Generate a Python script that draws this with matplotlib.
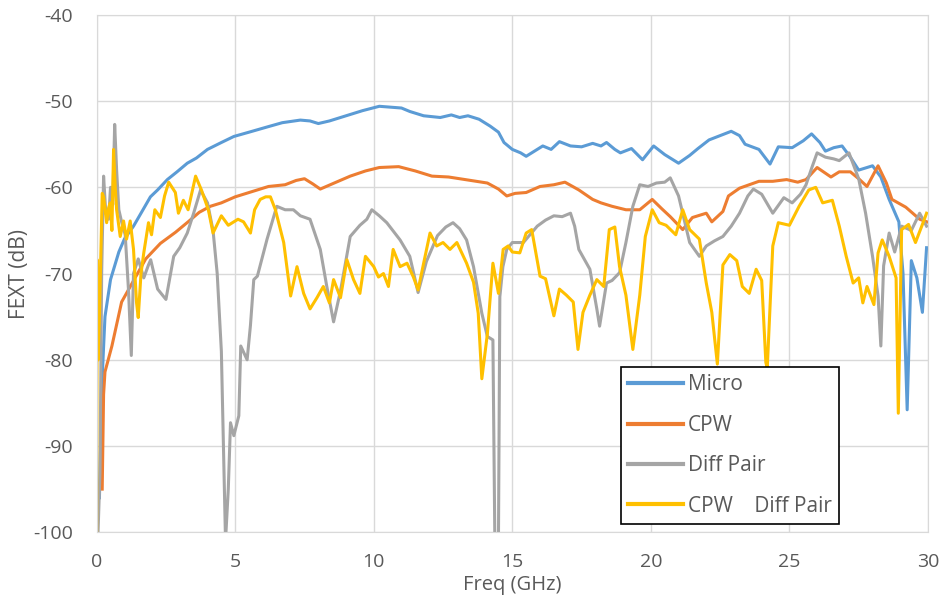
import matplotlib
matplotlib.use("Agg")
import matplotlib.pyplot as plt

plt.rcParams['font.family'] = ['Open Sans', 'DejaVu Sans']
plt.rcParams['axes.unicode_minus'] = False

# Micro
micro_f = [0.1, 0.2, 0.3, 0.5, 0.8, 1.0, 1.33, 1.6, 1.94, 2.2, 2.55, 2.9, 3.27, 3.6, 4.0, 4.5,
           4.95, 5.5, 6.15, 6.7, 7.35, 7.7, 8.0, 8.4, 8.8, 9.2, 9.6, 10.2, 10.6, 11.0, 11.3,
           11.8, 12.1, 12.4, 12.8, 13.1, 13.4, 13.8, 14.2, 14.5, 14.7, 15.0, 15.3, 15.5, 15.8,
           16.1, 16.4, 16.7, 17.1, 17.5, 17.9, 18.2, 18.4, 18.7, 18.9, 19.3, 19.7, 20.1, 20.5,
           21.0, 21.4, 21.7, 22.1, 22.5, 22.9, 23.2, 23.4, 23.9, 24.3, 24.6, 25.1, 25.5, 25.8,
           26.1, 26.3, 26.6, 26.9, 27.2, 27.5, 28.0, 28.3, 28.6, 28.95, 29.1, 29.25, 29.4, 29.6,
           29.8, 29.95]
micro_v = [-96, -82, -75, -70.7, -67.5, -66, -64.5, -63, -61.1, -60.3, -59.1, -58.2, -57.2, -56.6,
           -55.6, -54.8, -54.1, -53.6, -53.0, -52.5, -52.2, -52.3, -52.6, -52.3, -51.9, -51.5,
           -51.1, -50.6, -50.7, -50.8, -51.2, -51.7, -51.8, -51.9, -51.6, -51.9, -51.7, -52.1,
           -52.9, -53.6, -54.8, -55.6, -56.0, -56.4, -55.8, -55.2, -55.6, -54.7, -55.2, -55.3,
           -54.9, -55.2, -54.8, -55.6, -56.0, -55.5, -56.8, -55.2, -56.2, -57.2, -56.3, -55.5,
           -54.5, -54.0, -53.5, -54.0, -55.0, -55.6, -57.3, -55.3, -55.4, -54.6, -53.8, -54.8,
           -55.8, -55.4, -55.2, -56.5, -58.0, -57.5, -58.8, -61.4, -64.0, -70, -85.8, -68.5,
           -70.5, -74.5, -67]

# CPW
cpw_f = [0.2, 0.25, 0.3, 0.55, 0.9, 1.3, 1.77, 2.3, 2.85, 3.3, 3.7, 4.1, 4.5, 5.0, 5.6, 6.2,
         6.8, 7.2, 7.5, 7.8, 8.07, 8.5, 9.15, 9.7, 10.2, 10.9, 11.5, 12.1, 12.7, 13.3, 14.1,
         14.5, 14.8, 15.1, 15.5, 16.0, 16.5, 16.9, 17.4, 17.9, 18.2, 18.6, 19.1, 19.6, 20.05,
         20.4, 20.7, 21.15, 21.5, 22.0, 22.2, 22.6, 22.8, 23.2, 23.9, 24.4, 24.9, 25.3, 25.6,
         26.0, 26.5, 26.8, 27.2, 27.5, 27.8, 28.2, 28.5, 28.7, 29.2, 29.7, 29.96]
cpw_v = [-95, -84, -81.4, -78.4, -73.3, -71, -68.3, -66.5, -65.2, -64, -62.9, -62.2, -61.8,
         -61.1, -60.5, -59.9, -59.7, -59.2, -59.0, -59.6, -60.2, -59.6, -58.7, -58.1, -57.7,
         -57.6, -58.1, -58.7, -58.8, -59.1, -59.5, -60.2, -61.0, -60.7, -60.6, -59.9, -59.7,
         -59.4, -60.3, -61.4, -61.8, -62.2, -62.6, -62.6, -61.4, -62.5, -63.4, -64.9, -63.5,
         -63.0, -64.0, -62.8, -61.0, -60.1, -59.3, -59.3, -59.1, -59.4, -59.1, -57.7, -58.8,
         -58.2, -58.2, -59.0, -59.9, -57.5, -59.5, -61.4, -62.3, -63.7, -64]

# Diff Pair
diff_f = [0.05, 0.12, 0.18, 0.25, 0.33, 0.43, 0.5, 0.58, 0.65, 0.72, 0.8, 0.9, 1.03, 1.15, 1.25,
          1.33, 1.5, 1.7, 1.87, 1.95, 2.2, 2.4, 2.5, 2.78, 3.0, 3.27, 3.5, 3.75, 4.0, 4.2, 4.35,
          4.5, 4.65, 4.75, 4.83, 4.95, 5.13, 5.2, 5.43, 5.55, 5.67, 5.8, 6.15, 6.5, 6.8, 7.1,
          7.35, 7.7, 8.07, 8.3, 8.55, 8.8, 9.15, 9.5, 9.75, 9.93, 10.2, 10.47, 10.95, 11.3,
          11.6, 11.9, 12.3, 12.6, 12.86, 13.1, 13.35, 13.6, 13.9, 14.1, 14.3, 14.37, 14.5,
          14.55, 14.66, 14.8, 15.0, 15.4, 15.9, 16.2, 16.5, 16.8, 17.1, 17.25, 17.4, 17.8,
          18.05, 18.15, 18.4, 18.6, 18.87, 19.1, 19.35, 19.6, 19.9, 20.2, 20.5, 20.7, 21.0,
          21.4, 21.75, 22.0, 22.3, 22.6, 22.9, 23.2, 23.5, 23.7, 24.0, 24.4, 24.8, 25.1, 25.4,
          25.6, 25.8, 26.0, 26.3, 26.6, 26.8, 27.15, 27.5, 27.75, 28.0, 28.2, 28.3, 28.4, 28.6,
          28.8, 29.05, 29.4, 29.7, 29.95]
diff_v = [-100, -93, -70, -58.7, -63, -63.7, -60, -62, -52.7, -58, -62.6, -64, -65.5, -72, -79.5,
          -70, -68.3, -70.5, -69, -68.4, -71.8, -72.6, -73, -68, -67, -65.3, -63, -60.3, -61.8,
          -65, -70, -79, -101, -95, -87.3, -88.8, -86.5, -78.4, -80, -76, -70.7, -70.3, -66,
          -62.2, -62.6, -62.6, -63.3, -63.7, -67.2, -71.4, -75.6, -72, -65.7, -64.4, -63.7,
          -62.6, -63.3, -64.1, -66.1, -68, -72.2, -68.6, -65.6, -64.6, -64.1, -64.8, -66.1,
          -69.2, -74.6, -77.3, -77.7, -101, -101, -72.7, -69.2, -67.2, -66.4, -66.4, -64.5,
          -63.8, -63.3, -63.4, -63.0, -64.5, -67.2, -69.5, -74.1, -76.1, -71.1, -70.8, -69.9,
          -66.4, -62.2, -59.7, -59.9, -59.5, -59.4, -58.9, -61.0, -66.4, -68.0, -66.8, -66.2,
          -65.7, -64.5, -63.0, -61.0, -60.2, -60.8, -63.0, -61.2, -61.8, -60.8, -59.7, -57.8,
          -56.0, -56.5, -56.7, -56.9, -56.0, -59.0, -63.0, -68.0, -72.6, -78.4, -69.1, -65.3,
          -67.5, -64.5, -65.0, -63.0, -64.5]

# CPW + Diff Pair
cdp_f = [0.0, 0.02, 0.05, 0.1, 0.2, 0.25, 0.36, 0.43, 0.49, 0.55, 0.61, 0.67, 0.72, 0.85, 0.97,
         1.08, 1.21, 1.33, 1.44, 1.5, 1.6, 1.7, 1.87, 1.98, 2.1, 2.3, 2.45, 2.6, 2.84, 2.95,
         3.13, 3.3, 3.57, 3.78, 4.03, 4.2, 4.5, 4.75, 5.1, 5.3, 5.47, 5.55, 5.7, 5.9, 6.1,
         6.27, 6.45, 6.75, 7.0, 7.23, 7.47, 7.7, 7.95, 8.18, 8.4, 8.55, 8.8, 9.03, 9.27, 9.5,
         9.7, 10.0, 10.17, 10.35, 10.53, 10.7, 10.95, 11.2, 11.43, 11.6, 11.8, 12.03, 12.27,
         12.5, 12.75, 13.0, 13.35, 13.6, 13.77, 13.9, 14.0, 14.1, 14.3, 14.5, 14.67, 14.85,
         15.0, 15.27, 15.5, 15.7, 16.0, 16.2, 16.5, 16.7, 16.95, 17.2, 17.37, 17.55, 17.8,
         18.05, 18.3, 18.5, 18.7, 18.87, 19.1, 19.35, 19.6, 19.8, 20.05, 20.3, 20.55, 20.9,
         21.15, 21.4, 21.75, 22.0, 22.2, 22.4, 22.6, 22.85, 23.1, 23.3, 23.55, 23.8, 24.0,
         24.15, 24.2, 24.4, 24.6, 25.0, 25.35, 25.7, 25.95, 26.2, 26.55, 26.8, 27.05, 27.3,
         27.5, 27.65, 27.8, 28.05, 28.2, 28.35, 28.6, 28.85, 28.93, 29.05, 29.3, 29.55, 29.8,
         29.95]
cdp_v = [-100, -68.4, -80, -75, -60.7, -61.1, -64.1, -62.4, -61.8, -65, -55.6, -60, -62.6,
         -65.7, -63.9, -66.0, -63.9, -67.2, -73.4, -75.1, -70, -67.6, -64.1, -65.5, -62.6,
         -63.5, -61, -59.4, -60.6, -63.0, -61.5, -62.6, -58.7, -60.3, -62.6, -65.3, -63.3,
         -64.4, -63.7, -64.0, -64.9, -65.3, -62.6, -61.4, -61.1, -61.1, -62.6, -66.4, -72.6,
         -69.2, -72.3, -74.1, -72.8, -71.5, -73.4, -70.7, -72.8, -68.4, -70.7, -72.3, -68.0,
         -69.2, -70.4, -70.0, -71.5, -67.2, -69.2, -68.8, -70.4, -71.9, -68.8, -65.3, -66.8,
         -66.4, -67.2, -66.4, -68.8, -71.0, -74.6, -82.2, -79.6, -77.0, -68.8, -72.3, -67.2,
         -66.8, -67.5, -67.6, -65.3, -64.9, -70.3, -70.6, -74.9, -71.8, -72.5, -73.3, -78.8,
         -74.5, -72.5, -70.7, -71.5, -64.9, -64.6, -69.2, -72.5, -78.8, -72.5, -65.7, -62.6,
         -64.1, -64.4, -65.5, -62.6, -64.9, -66.0, -71.1, -74.5, -80.5, -69.0, -67.8, -68.5,
         -71.5, -72.3, -69.5, -70.8, -80.3, -81, -66.8, -64.1, -64.4, -62.2, -60.3, -60.0,
         -61.8, -61.5, -64.5, -68.0, -71.1, -70.5, -73.4, -71.5, -73.6, -67.6, -66.1, -68.0,
         -70.5, -86.2, -64.9, -64.3, -66.4, -64.3, -63]

labels = ["Micro", "CPW", "Diff Pair", "CPW    Diff Pair"]
colors = ["#5B9BD5", "#ED7D31", "#A5A5A5", "#FFC000"]

fig = plt.figure(figsize=(9.44, 5.96), dpi=100)
ax = fig.add_axes([0.1024, 0.107, 0.8806, 0.868])

series = [(micro_f, micro_v), (cpw_f, cpw_v), (diff_f, diff_v), (cdp_f, cdp_v)]
for (f, v), lab, c in zip(series, labels, colors):
    ax.plot(f, v, color=c, lw=2.2, label=lab, solid_joinstyle='round')

ax.set_xlim(0, 30)
ax.set_ylim(-100, -40)
ax.set_xticks(range(0, 31, 5))
ax.set_yticks(range(-100, -39, 10))
ax.grid(True, color="#d9d9d9", lw=1.0)
ax.set_axisbelow(True)
for s in ax.spines.values():
    s.set_color("#d9d9d9")
ax.tick_params(length=0, labelsize=14, labelcolor="#595959")
ax.tick_params(axis='x', pad=15)
ax.tick_params(axis='y', pad=17)

ax.set_xlabel("Freq (GHz)", fontsize=14.5, color="#595959")
ax.set_ylabel("FEXT (dB)", fontsize=15, color="#595959")
ax.xaxis.set_label_coords(0.5, -0.083)
ax.yaxis.set_label_coords(-0.08, 0.5)

leg = ax.legend(loc="upper left", bbox_to_anchor=(0.631, 0.319), fontsize=15,
                frameon=True, fancybox=False, handlelength=2.6, labelspacing=0.93,
                borderaxespad=0, borderpad=0.35, handletextpad=0.25)
leg.get_frame().set_edgecolor("black")
leg.get_frame().set_linewidth(1.2)
leg.get_frame().set_alpha(1)
for t in leg.get_texts():
    t.set_color("#595959")
for l in leg.get_lines():
    l.set_linewidth(3)

fig.savefig("out.png", dpi=100)
